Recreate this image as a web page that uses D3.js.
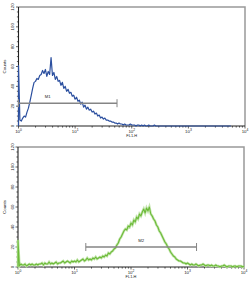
<!DOCTYPE html>
<html>
<head>
<meta charset="utf-8">
<script src="https://cdn.jsdelivr.net/npm/d3@7"></script>
<style>
  body { margin: 0; background: #fff; }
  svg text { font-family: "Liberation Sans", Arial, sans-serif; fill: #222; }
</style>
</head>
<body>
<div id="chart"></div>
<script>
// histogram bins, one every 0.025 decade starting at 10^0
var binStep = 0.025;
var countsTop = [61, 6, 5, 8, 10, 9, 14, 18, 24, 31, 38, 44, 45, 48, 47, 51, 52, 56, 53, 57,
  50, 55, 52, 69, 51, 54, 47, 50, 45, 46, 41, 44, 38, 40, 35, 37, 33, 34, 30, 31,
  27, 29, 25, 26, 22, 24, 19, 21, 17, 19, 16, 17, 14, 15, 12, 13, 10, 11, 8, 9,
  7, 8, 6, 6, 5, 5, 4, 4, 3, 3, 2, 3, 2, 2, 1, 2, 1, 1, 1, 2, 1, 1, 1, 0, 1, 1,
  0, 1, 0, 1, 0, 0, 1, 0, 0, 0, 1, 0, 0, 0, 0, 0, 0, 0, 0, 0, 0, 0, 0, 0,
  0, 0, 0, 0, 0, 0, 0, 0, 0, 0, 0, 0, 0, 0, 0, 0, 0, 0, 0, 0,
  0, 0, 0, 0, 0, 0, 0, 0, 0, 0, 0, 0, 0, 0, 0, 0, 0, 0, 0, 0, 0];
var countsBottom = [27, 1, 3, 2, 2, 3, 1, 2, 3, 2, 3, 2, 2, 3, 2, 3,
  3, 4, 2, 4, 3, 3, 5, 3, 4, 3, 4, 5, 3, 4,
  4, 5, 6, 4, 5, 6, 5, 4, 6, 5, 6, 5, 7, 5,
  6, 7, 8, 6, 7, 9, 7, 8, 7, 9, 8, 10, 8, 9,
  10, 9, 11, 10, 12, 11, 14, 13, 15, 16, 18, 19, 22, 24, 28, 30, 33, 36, 38, 37, 41, 40,
  44, 42, 47, 45, 50, 48, 53, 51, 55, 58, 54, 59, 56, 60, 53, 51, 48, 46, 42, 40,
  36, 34, 31, 28, 25, 23, 20, 18, 15, 13, 11, 10, 8, 7, 6, 6, 5, 4, 4, 3, 4, 3,
  2, 3, 2, 2, 3, 2, 1, 2, 2, 3, 2, 1, 2, 2, 1, 2,
  1, 1, 2, 1, 1, 0, 1, 1, 2, 1, 0, 1, 1, 1, 0, 1, 1, 0, 1, 1, 1, 0, 1];
var yTicks = [0, 20, 40, 60, 80, 100, 120];
var xDecades = [0, 1, 2, 3, 4];
var markers = [
  { name: "M1", from: 1, to: 10 ** 1.74, level: 23 },
  { name: "M2", from: 10 ** 1.2, to: 10 ** 3.16, level: 20 }
];

var W = 250, H = 282;
var svg = d3.select("#chart").append("svg")
  .attr("width", W).attr("height", H);

var panels = [
  { counts: countsTop, marker: markers[0], color: "#2b4f9f", halo: null, lw: 1.2,
    left: 18.5, right: 245, top: 7, bottom: 126 },
  { counts: countsBottom, marker: markers[1], color: "#6cba38", halo: "#c4e6ae", lw: 1.1,
    left: 18, right: 244, top: 147, bottom: 267 }
];

function drawPanel(p) {
  var x = d3.scaleLog().domain([1, 1e4]).range([p.left, p.right]);
  var y = d3.scaleLinear().domain([0, 120]).range([p.bottom, p.top]);
  var g = svg.append("g");

  // frame: top and right in grey
  g.append("path")
    .attr("d", "M" + p.left + "," + p.top + "H" + p.right + "V" + p.bottom)
    .attr("fill", "none").attr("stroke", "#999").attr("stroke-width", 1.5);

  // y axis
  var ya = g.append("g").attr("transform", "translate(" + p.left + ",0)");
  ya.append("line").attr("y1", p.top).attr("y2", p.bottom)
    .attr("stroke", "#222").attr("stroke-width", 1.1);
  d3.range(0, 121, 5).forEach(function (v) {
    var major = v % 20 === 0;
    ya.append("line").attr("x1", major ? -2.5 : -1.6).attr("x2", 0)
      .attr("y1", y(v)).attr("y2", y(v))
      .attr("stroke", "#222").attr("stroke-width", 0.7);
  });
  yTicks.forEach(function (v) {
    ya.append("text")
      .attr("transform", "translate(-4.5," + y(v) + ") rotate(-90)")
      .attr("text-anchor", "middle")
      .style("font-size", "4.4px")
      .text(v);
  });
  g.append("text")
    .attr("transform", "translate(6," + (p.top + p.bottom) / 2 + ") rotate(-90)")
    .attr("text-anchor", "middle")
    .style("font-size", "4.4px")
    .text("Counts");

  // x axis
  var xa = g.append("g").attr("transform", "translate(0," + p.bottom + ")");
  xa.append("line").attr("x1", p.left).attr("x2", p.right)
    .attr("stroke", "#222").attr("stroke-width", 1.1);
  xDecades.forEach(function (k) {
    for (var m = 1; m < 10; m++) {
      if (k === 4 && m > 1) break;
      var v = m * Math.pow(10, k);
      xa.append("line").attr("x1", x(v)).attr("x2", x(v))
        .attr("y1", 0).attr("y2", m === 1 ? 2.5 : 1.6)
        .attr("stroke", "#222").attr("stroke-width", 0.7);
    }
    var t = xa.append("text")
      .attr("x", x(Math.pow(10, k))).attr("y", 6.5)
      .attr("text-anchor", "middle")
      .style("font-size", "4.4px");
    t.append("tspan").text("10");
    t.append("tspan").attr("dy", -1.8).style("font-size", "3.3px").text(k);
  });
  xa.append("text")
    .attr("x", x(100)).attr("y", 11)
    .attr("text-anchor", "middle")
    .style("font-size", "3.9px")
    .text("FL1-H");

  // histogram
  var pts = p.counts.map(function (c, i) { return [Math.pow(10, i * binStep), c]; });
  var line = d3.line()
    .x(function (d) { return x(d[0]); })
    .y(function (d) { return y(d[1]); });
  var full = [[1, 0]].concat(pts);
  if (p.halo) {
    g.append("path").datum(full).attr("d", line)
      .attr("fill", "none").attr("stroke", p.halo).attr("stroke-width", 2.6);
  }
  g.append("path").datum(full).attr("d", line)
    .attr("fill", "none").attr("stroke", p.color).attr("stroke-width", p.lw)
    .attr("stroke-linejoin", "round");

  // marker bar
  var mk = p.marker;
  var my = y(mk.level);
  var mg = g.append("g").attr("stroke", "#858585").attr("stroke-width", 1.4);
  mg.append("line").attr("x1", x(mk.from)).attr("x2", x(mk.to)).attr("y1", my).attr("y2", my);
  [mk.from, mk.to].forEach(function (v) {
    mg.append("line").attr("x1", x(v)).attr("x2", x(v)).attr("y1", my - 4).attr("y2", my + 4)
      .attr("stroke-width", 1);
  });
  g.append("text")
    .attr("x", x(Math.sqrt(mk.from * mk.to)) - (mk.name === "M1" ? 20 : 0)).attr("y", my - 5)
    .attr("text-anchor", "middle")
    .style("font-size", "4.2px")
    .text(mk.name);
}

panels.forEach(drawPanel);
</script>
</body>
</html>
